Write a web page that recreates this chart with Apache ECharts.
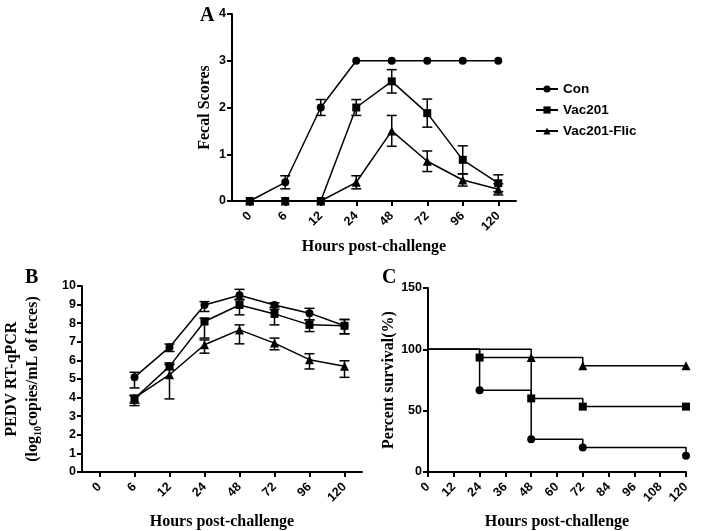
<!DOCTYPE html>
<html><head><meta charset="utf-8">
<script src="https://cdn.jsdelivr.net/npm/echarts@6/dist/echarts.min.js"></script>
<style>html,body{margin:0;padding:0;background:#fff}#c{width:708px;height:531px}</style>
</head><body><div id="c"></div>
<script>
// Panel A: fecal scores
var hoursA = ['0','6','12','24','48','72','96','120'];
var conA = [0,0.4,2,3,3,3,3,3];
var conAErr = [0,0.14,0.17,0,0,0,0,0];
var vacA = [0,0,0,2,2.56,1.88,0.88,0.38];
var vacAErr = [0,0,0,0.17,0.25,0.3,0.3,0.18];
var flicA = [0,0,0,0.4,1.5,0.85,0.45,0.25];
var flicAErr = [0,0,0,0.14,0.33,0.22,0.13,0.12];
// Panel B: PEDV RT-qPCR
var hoursB = ['0','6','12','24','48','72','96','120'];
var conB = [null,5.1,6.71,8.98,9.5,8.98,8.54,7.86];
var conBLow = [null,4.52,6.48,8.63,9.25,8.86,8.18,7.43];
var conBHigh = [null,5.36,6.88,9.16,9.82,9.1,8.8,8.2];
var vacB = [null,3.95,5.68,8.09,8.98,8.5,7.91,7.86];
var vacBLow = [null,3.57,5.5,7.2,8.45,7.91,7.55,7.43];
var vacBHigh = [null,4.12,5.86,8.27,9.29,8.75,8.18,8.2];
var flicB = [null,3.98,5.23,6.84,7.64,6.93,6.04,5.68];
var flicBLow = [null,3.7,3.93,6.39,6.89,6.57,5.54,5.09];
var flicBHigh = [null,4.1,5.77,7.1,7.91,7.2,6.36,5.98];
// Panel C: survival
var conCx = [0,24,48,72,120];
var conCy = [100,66.7,26.7,20,13.3];
var vacCx = [0,24,48,72,120];
var vacCy = [100,93.3,60,53.3,53.3];
var flicCx = [0,48,72,120];
var flicCy = [100,93.3,86.7,86.7];
var names = ['Con','Vac201','Vac201-Flic'];

var serif = '"Liberation Serif","Times New Roman",serif';
var sans = '"Liberation Sans",Arial,sans-serif';
var axisLine = {lineStyle:{color:'#000',width:2}};
var axisTick = {show:true, length:5, lineStyle:{color:'#000',width:2}};
var catTick = {show:true, alignWithLabel:true, length:5, lineStyle:{color:'#000',width:2}};
var tickLbl = {color:'#000',fontFamily:sans,fontWeight:'bold',fontSize:12.5};
var nameStyle = {color:'#000',fontFamily:serif,fontWeight:'bold',fontSize:16};
var titleStyle = {fontFamily:serif,fontWeight:'bold',fontSize:20,color:'#000'};

function errSeries(xi, yi, means, low, high){
  var d = [];
  for (var i=0;i<means.length;i++){
    if (means[i]==null) continue;
    if (high[i]-low[i] <= 0) continue;
    d.push([i, low[i], high[i]]);
  }
  return {type:'custom', xAxisIndex:xi, yAxisIndex:yi, z:1, silent:true, data:d,
    renderItem:function(params, api){
      var x = api.value(0);
      var lo = api.coord([x, api.value(1)]);
      var hi = api.coord([x, api.value(2)]);
      var w = 5;
      var st = {stroke:'#000', lineWidth:1.5};
      return {type:'group', children:[
        {type:'line', shape:{x1:lo[0],y1:lo[1],x2:hi[0],y2:hi[1]}, style:st},
        {type:'line', shape:{x1:lo[0]-w,y1:lo[1],x2:lo[0]+w,y2:lo[1]}, style:st},
        {type:'line', shape:{x1:hi[0]-w,y1:hi[1],x2:hi[0]+w,y2:hi[1]}, style:st}
      ]};
    }};
}
function symErr(m, e){ var lo=[],hi=[]; for(var i=0;i<m.length;i++){lo.push(m[i]-e[i]);hi.push(m[i]+e[i]);} return [lo,hi]; }
function lineS(name, xi, yi, data, sym){
  return {name:name, type:'line', xAxisIndex:xi, yAxisIndex:yi, data:data, symbol:sym, symbolSize:sym==='triangle'?9:8,
    z:3, itemStyle:{color:'#000'}, lineStyle:{color:'#000',width:1.5}, connectNulls:false, animation:false};
}
function pairs(xs, ys){ var r=[]; for(var i=0;i<xs.length;i++){ r.push(i===0?{value:[xs[i],ys[i]],symbol:'none'}:[xs[i],ys[i]]);} return r; }
function stepS(name, xs, ys, sym){
  var s = lineS(name, 2, 2, pairs(xs,ys), sym);
  s.step = 'end';
  return s;
}

var eA1 = symErr(conA, conAErr), eA2 = symErr(vacA, vacAErr), eA3 = symErr(flicA, flicAErr);

var chart = echarts.init(document.getElementById('c'), null, {renderer:'canvas'});
chart.setOption({
  animation:false,
  backgroundColor:'#fff',
  title:[
    {text:'A', left:195, top:1, textStyle:titleStyle},
    {text:'B', left:20, top:263, textStyle:titleStyle},
    {text:'C', left:377, top:263, textStyle:titleStyle}
  ],
  legend:{data:names, left:530, top:77, orient:'vertical', itemWidth:22, itemHeight:9, itemGap:7,
    textStyle:{fontFamily:sans,fontWeight:'bold',fontSize:13.5,color:'#000'}},
  grid:[
    {left:232, top:14, width:284, height:187},
    {left:82, top:286, width:280, height:187},
    {left:428, top:288, width:258, height:185}
  ],
  xAxis:[
    {gridIndex:0, type:'category', data:hoursA, boundaryGap:true, axisLine:axisLine,
      axisTick:catTick, axisLabel:Object.assign({rotate:45, margin:13}, tickLbl),
      name:'Hours post-challenge', nameLocation:'middle', nameGap:38, nameTextStyle:nameStyle},
    {gridIndex:1, type:'category', data:hoursB, boundaryGap:true, axisLine:axisLine,
      axisTick:catTick, axisLabel:Object.assign({rotate:45, margin:13}, tickLbl),
      name:'Hours post-challenge', nameLocation:'middle', nameGap:42, nameTextStyle:nameStyle},
    {gridIndex:2, type:'value', min:0, max:120, interval:12, axisLine:axisLine,
      axisTick:axisTick, splitLine:{show:false}, axisLabel:Object.assign({rotate:45, margin:13}, tickLbl),
      name:'Hours post-challenge', nameLocation:'middle', nameGap:42, nameTextStyle:nameStyle}
  ],
  yAxis:[
    {gridIndex:0, type:'value', min:0, max:4, interval:1, axisLine:Object.assign({show:true},axisLine),
      axisTick:axisTick, splitLine:{show:false}, axisLabel:Object.assign({margin:6}, tickLbl),
      name:'Fecal Scores', nameLocation:'middle', nameGap:19, nameTextStyle:nameStyle},
    {gridIndex:1, type:'value', min:0, max:10, interval:1, axisLine:Object.assign({show:true},axisLine),
      axisTick:axisTick, splitLine:{show:false}, axisLabel:Object.assign({margin:6}, tickLbl),
      name:'{a|PEDV RT-qPCR}\n{a|(log}{s|10}{a|copies/mL of feces)}', nameLocation:'middle', nameGap:39,
      nameTextStyle:{color:'#000', lineHeight:21, rich:{
        a:{fontFamily:serif,fontWeight:'bold',fontSize:16,color:'#000',lineHeight:21},
        s:{fontFamily:serif,fontWeight:'bold',fontSize:10,color:'#000',lineHeight:21,verticalAlign:'bottom',padding:[7,0,0,0]}}}},
    {gridIndex:2, type:'value', min:0, max:150, interval:50, axisLine:Object.assign({show:true},axisLine),
      axisTick:axisTick, splitLine:{show:false}, axisLabel:Object.assign({margin:6}, tickLbl),
      name:'Percent survival(%)', nameLocation:'middle', nameGap:31, nameTextStyle:nameStyle}
  ],
  series:[
    lineS('Con',0,0,conA,'circle'),
    lineS('Vac201',0,0,vacA,'rect'),
    lineS('Vac201-Flic',0,0,flicA,'triangle'),
    errSeries(0,0,conA,eA1[0],eA1[1]),
    errSeries(0,0,vacA,eA2[0],eA2[1]),
    errSeries(0,0,flicA,eA3[0],eA3[1]),
    lineS('Con',1,1,conB,'circle'),
    lineS('Vac201',1,1,vacB,'rect'),
    lineS('Vac201-Flic',1,1,flicB,'triangle'),
    errSeries(1,1,conB,conBLow,conBHigh),
    errSeries(1,1,vacB,vacBLow,vacBHigh),
    errSeries(1,1,flicB,flicBLow,flicBHigh),
    stepS('Con',conCx,conCy,'circle'),
    stepS('Vac201',vacCx,vacCy,'rect'),
    stepS('Vac201-Flic',flicCx,flicCy,'triangle')
  ]
});
</script></body></html>
